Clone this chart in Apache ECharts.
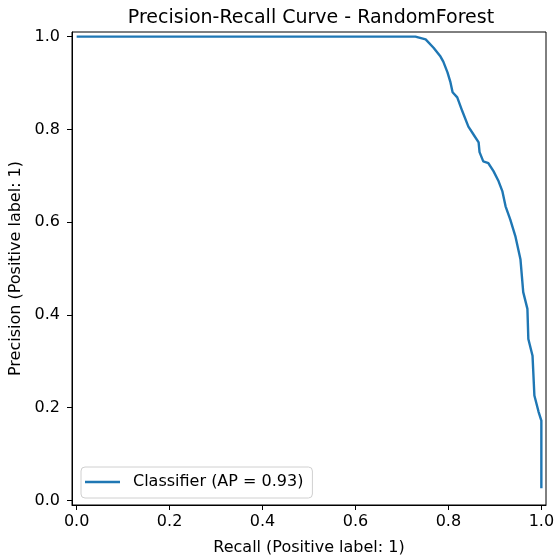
<!DOCTYPE html>
<html>
<head>
<meta charset="utf-8">
<script src="https://cdn.jsdelivr.net/npm/echarts@6/dist/echarts.min.js"></script>
<style>html,body{margin:0;padding:0;background:#fff}#c{width:555px;height:557px}</style>
</head>
<body>
<div id="c"></div>
<script>
const recall = [0.0, 0.729, 0.751, 0.768, 0.783, 0.789, 0.798, 0.804, 0.809, 0.819, 0.830, 0.843, 0.854, 0.865, 0.867, 0.875, 0.886, 0.897, 0.908, 0.916, 0.923, 0.933, 0.944, 0.955, 0.961, 0.970, 0.972, 0.981, 0.985, 0.994, 1.0, 1.0];
const precision = [1.0, 1.0, 0.994, 0.976, 0.957, 0.946, 0.923, 0.903, 0.880, 0.869, 0.839, 0.806, 0.789, 0.772, 0.751, 0.731, 0.727, 0.710, 0.688, 0.667, 0.634, 0.606, 0.570, 0.520, 0.449, 0.413, 0.348, 0.312, 0.226, 0.191, 0.172, 0.026];
const tickValues = [0.0, 0.2, 0.4, 0.6, 0.8, 1.0];
const seriesName = 'Classifier (AP = 0.93)';
const titleText = 'Precision-Recall Curve - RandomForest';
const xLabel = 'Recall (Positive label: 1)';
const yLabel = 'Precision (Positive label: 1)';

const font = 'DejaVu Sans';
const points = recall.map((r, i) => [r, precision[i]]);
const chart = echarts.init(document.getElementById('c'), null, {renderer: 'canvas'});
const axisCommon = {
  type: 'value', min: -0.01, max: 1.01,
  splitLine: {show: false},
  axisLine: {show: true, onZero: false, lineStyle: {color: '#000', width: 1}},
  axisTick: {show: true, length: 5, customValues: tickValues, lineStyle: {color: '#000'}},
  axisLabel: {customValues: tickValues, color: '#000', fontFamily: font, fontSize: 16,
    formatter: v => v.toFixed(1)},
  nameLocation: 'middle',
  nameTextStyle: {color: '#000', fontFamily: font, fontSize: 16}
};
chart.setOption({
  animation: false,
  backgroundColor: '#fff',
  title: {text: titleText, left: 306, top: 4, textAlign: 'center',
    textStyle: {fontFamily: font, fontSize: 19, fontWeight: 'normal', color: '#000'}},
  grid: {left: 72, right: 9, top: 32, bottom: 52, show: true, borderColor: '#000', borderWidth: 1,
    backgroundColor: 'transparent', outerBoundsMode: 'none', containLabel: false},
  xAxis: Object.assign({}, axisCommon, {name: xLabel, nameGap: 35,
    axisLabel: Object.assign({}, axisCommon.axisLabel, {margin: 9})}),
  yAxis: Object.assign({}, axisCommon, {name: yLabel, nameGap: 41,
    axisLabel: Object.assign({}, axisCommon.axisLabel, {margin: 12})}),
  legend: {
    left: 81, top: 467, orient: 'vertical',
    borderColor: '#d0d0d0', borderWidth: 1, borderRadius: 4,
    backgroundColor: 'rgba(255,255,255,0.8)', padding: [7, 9, 8, 4],
    icon: 'rect', itemWidth: 35, itemHeight: 2.4, itemGap: 6,
    textStyle: {fontFamily: font, fontSize: 16, color: '#000', padding: [0, 0, 0, 8]},
    data: [seriesName]
  },
  series: [{
    name: seriesName, type: 'line', data: points,
    showSymbol: false, symbol: 'none',
    lineStyle: {color: '#1f77b4', width: 2.4}, itemStyle: {color: '#1f77b4'}
  }]
});
</script>
</body>
</html>
